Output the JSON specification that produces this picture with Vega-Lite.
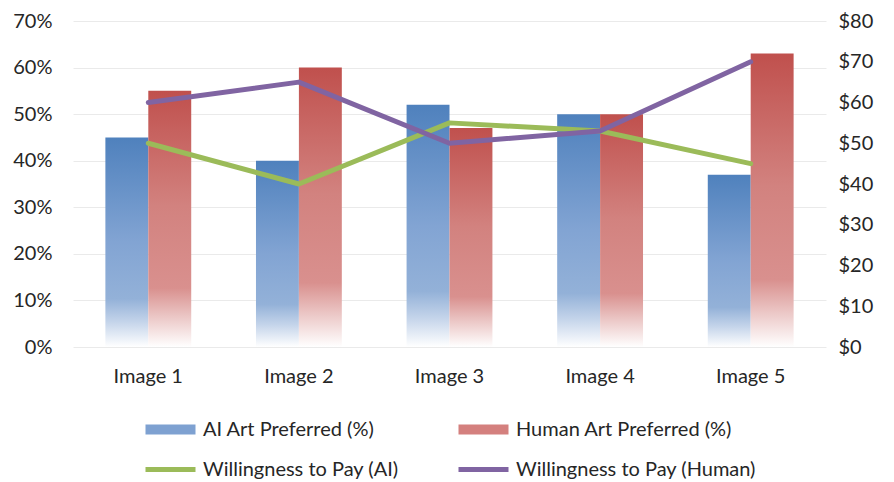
{
  "$schema": "https://vega.github.io/schema/vega-lite/v6.json",
  "width": 753,
  "height": 326,
  "autosize": {"type": "none"},
  "padding": {"left": 73, "top": 21, "right": 68, "bottom": 135},
  "background": "white",
  "config": {
    "font": "Lato",
    "view": {"stroke": null},
    "axis": {
      "labelFont": "Lato",
      "labelFontSize": 20,
      "labelColor": "#262626",
      "domain": false,
      "ticks": false,
      "title": null
    }
  },
  "datasets": {
    "share": [
      {"image": "Image 1", "series": "AI Art Preferred (%)", "pct": 45},
      {"image": "Image 1", "series": "Human Art Preferred (%)", "pct": 55},
      {"image": "Image 2", "series": "AI Art Preferred (%)", "pct": 40},
      {"image": "Image 2", "series": "Human Art Preferred (%)", "pct": 60},
      {"image": "Image 3", "series": "AI Art Preferred (%)", "pct": 52},
      {"image": "Image 3", "series": "Human Art Preferred (%)", "pct": 47},
      {"image": "Image 4", "series": "AI Art Preferred (%)", "pct": 50},
      {"image": "Image 4", "series": "Human Art Preferred (%)", "pct": 50},
      {"image": "Image 5", "series": "AI Art Preferred (%)", "pct": 37},
      {"image": "Image 5", "series": "Human Art Preferred (%)", "pct": 63}
    ],
    "pay": [
      {"image": "Image 1", "series": "Willingness to Pay (AI)", "usd": 50},
      {"image": "Image 2", "series": "Willingness to Pay (AI)", "usd": 40},
      {"image": "Image 3", "series": "Willingness to Pay (AI)", "usd": 55},
      {"image": "Image 4", "series": "Willingness to Pay (AI)", "usd": 53},
      {"image": "Image 5", "series": "Willingness to Pay (AI)", "usd": 45},
      {"image": "Image 1", "series": "Willingness to Pay (Human)", "usd": 60},
      {"image": "Image 2", "series": "Willingness to Pay (Human)", "usd": 65},
      {"image": "Image 3", "series": "Willingness to Pay (Human)", "usd": 50},
      {"image": "Image 4", "series": "Willingness to Pay (Human)", "usd": 53},
      {"image": "Image 5", "series": "Willingness to Pay (Human)", "usd": 70}
    ]
  },
  "layer": [
    {
      "data": {"name": "share"},
      "mark": {"type": "bar"},
      "encoding": {
        "x": {
          "field": "image",
          "type": "nominal",
          "scale": {"paddingInner": 0.43, "paddingOuter": 0.215},
          "axis": {"labelAngle": 0, "labelPadding": 19, "grid": false}
        },
        "xOffset": {
          "field": "series",
          "type": "nominal",
          "sort": ["AI Art Preferred (%)", "Human Art Preferred (%)"],
          "scale": {"paddingInner": 0, "paddingOuter": 0}
        },
        "y": {
          "field": "pct",
          "type": "quantitative",
          "scale": {"domain": [0, 70]},
          "axis": {
            "values": [0, 10, 20, 30, 40, 50, 60, 70],
            "labelExpr": "datum.value + '%'",
            "labelPadding": 21,
            "grid": true,
            "gridColor": "#EAEAEA",
            "gridWidth": 1
          }
        },
        "color": {
          "condition": {
            "test": "datum.series === 'AI Art Preferred (%)'",
            "value": {
              "gradient": "linear", "x1": 0, "y1": 0, "x2": 0, "y2": 1,
              "stops": [
                {"offset": 0, "color": "#4F81BD"},
                {"offset": 0.5, "color": "#82A4D3"},
                {"offset": 0.77, "color": "#93B1D8"},
                {"offset": 0.88, "color": "#C4D4EA"},
                {"offset": 1, "color": "#FFFFFF"}
              ]
            }
          },
          "value": {
            "gradient": "linear", "x1": 0, "y1": 0, "x2": 0, "y2": 1,
            "stops": [
              {"offset": 0, "color": "#C0504D"},
              {"offset": 0.45, "color": "#D2827F"},
              {"offset": 0.77, "color": "#D9908E"},
              {"offset": 0.88, "color": "#EBC6C5"},
              {"offset": 1, "color": "#FFFFFF"}
            ]
          }
        }
      }
    },
    {
      "data": {"name": "pay"},
      "mark": {"type": "line", "strokeWidth": 5, "strokeCap": "round", "strokeJoin": "round"},
      "encoding": {
        "x": {"field": "image", "type": "nominal"},
        "y": {
          "field": "usd",
          "type": "quantitative",
          "scale": {"domain": [0, 80]},
          "axis": {
            "orient": "right",
            "values": [0, 10, 20, 30, 40, 50, 60, 70, 80],
            "labelExpr": "'$' + datum.value",
            "labelPadding": 12,
            "grid": false
          }
        },
        "color": {
          "field": "series",
          "type": "nominal",
          "scale": {
            "domain": ["AI Art Preferred (%)", "Human Art Preferred (%)", "Willingness to Pay (AI)", "Willingness to Pay (Human)"],
            "range": ["#7EA1D1", "#D4807E", "#9BBB59", "#8064A2"]
          },
          "legend": {
            "title": null,
            "orient": "none",
            "direction": "horizontal",
            "legendX": 70,
            "legendY": 381,
            "columns": 2,
            "columnPadding": 49,
            "rowPadding": -9,
            "symbolSize": 2500,
            "symbolStrokeWidth": 5,
            "labelFont": "Lato",
            "labelFontSize": 20,
            "labelColor": "#262626",
            "labelOffset": 5,
            "labelLimit": 400,
            "encode": {
              "symbols": {
                "update": {
                  "shape": [
                    {"test": "indexof(datum.value, 'Preferred') >= 0", "value": "M-0.9,-0.1H0.9V0.1H-0.9Z"},
                    {"value": "stroke"}
                  ],
                  "fill": [
                    {"test": "datum.value === 'AI Art Preferred (%)'", "value": "#7EA1D1"},
                    {"test": "datum.value === 'Human Art Preferred (%)'", "value": "#D4807E"},
                    {"value": "transparent"}
                  ],
                  "stroke": [
                    {"test": "datum.value === 'AI Art Preferred (%)'", "value": "#7EA1D1"},
                    {"test": "datum.value === 'Human Art Preferred (%)'", "value": "#D4807E"},
                    {"test": "datum.value === 'Willingness to Pay (AI)'", "value": "#9BBB59"},
                    {"value": "#8064A2"}
                  ],
                  "opacity": {"value": 1}
                }
              }
            }
          }
        }
      }
    }
  ],
  "resolve": {"scale": {"y": "independent"}}
}
